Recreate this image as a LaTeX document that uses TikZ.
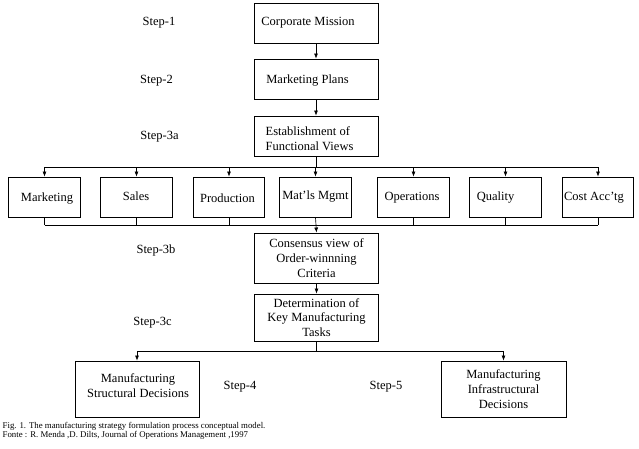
\documentclass[tikz,border=0pt]{standalone}
\usepackage{fontspec}
\setmainfont{Liberation Serif}
\usetikzlibrary{arrows.meta}
\begin{document}
\begin{tikzpicture}[x=1pt,y=-1pt,
  box/.style={draw=black, line width=0.9pt, inner sep=0pt, align=center,
    font=\fontsize{12.5}{14.8}\selectfont},
  bigbox/.style={box, minimum width=124pt},
  fbox/.style={box, minimum width=71.5pt, minimum height=40pt},
  steplbl/.style={font=\fontsize{12.5}{14}\selectfont, inner sep=0pt},
  txt/.style={font=\fontsize{12.5}{14.8}\selectfont, inner sep=0pt, align=left},
  wire/.style={line width=0.65pt},
  arr/.style={wire, -{Latex[length=5pt,width=4pt]}},
  caption/.style={font=\fontsize{8.8}{9}\selectfont, inner sep=0pt, anchor=west}]
\useasboundingbox (0,0) rectangle (639,448);

% main column
\node[bigbox, minimum height=40pt] (cm)  at (316,23) {};
\node[txt] (cmt) at (308,23) {Corporate Mission};
\node[bigbox, minimum height=40pt] (mp)  at (316,79) {};
\node[txt] (mpt) at (307.5,80.5) {Marketing Plans};
\node[bigbox, minimum height=40pt] (est) at (316,136) {};
\node[txt] (estt) at (309.5,139) {Establishment of\\Functional Views};

% functional views
\node[fbox] (mk) at (44.5,197) {};
\node[txt] (mkt) at (47,198.5) {Marketing};
\node[fbox] (sa) at (136.5,197) {};
\node[txt] (sat) at (136,196.5) {Sales};
\node[fbox] (pr) at (229,197) {};
\node[txt] (prt) at (227.5,198.5) {Production};
\node[fbox] (mm) at (315.5,197) {Mat’ls Mgmt};
\node[fbox] (op) at (413.5,197) {};
\node[txt] (opt) at (412,197.5) {Operations};
\node[fbox] (qu) at (505.5,197) {};
\node[txt] (qut) at (495.5,198) {Quality};
\node[fbox] (ca) at (598,197) {};
\node[txt] (cat) at (594,197.5) {Cost Acc’tg};

\node[bigbox, minimum height=50pt] (cons) at (316.5,258) {Consensus view of\\Order-winnning\\Criteria};
\node[bigbox, minimum height=47pt] (det) at (316.5,317.5) {Determination of\\Key Manufacturing\\Tasks};

\node[box, minimum width=124pt, minimum height=56pt] (msd) at (137,389) {};
\node[txt, align=center] (msdt) at (138,386) {Manufacturing\\Structural Decisions};
\node[box, minimum width=125pt, minimum height=56pt] (mid) at (503.5,389) {Manufacturing\\Infrastructural\\Decisions};

% step labels
\node[steplbl] (s1)  at (159,23)    {Step-1};
\node[steplbl] (s2)  at (156.5,81)  {Step-2};
\node[steplbl] (s3a) at (159.5,137) {Step-3a};
\node[steplbl] (s3b) at (156,250)   {Step-3b};
\node[steplbl] (s3c) at (152.5,323) {Step-3c};
\node[steplbl] (s4)  at (240,387)   {Step-4};
\node[steplbl] (s5)  at (386,387)   {Step-5};

% connectors
\draw[arr] (cm) -- (mp);
\draw[arr] (mp) -- (est);
\coordinate (top) at (316,167);
\draw[wire] (est.south) -- (top);
\draw[wire] (top -| mk.north) -- (top -| ca.north);
\foreach \b in {mk,sa,pr,mm,op,qu,ca}
  \draw[arr] (top -| \b.north) -- (\b.north);
\coordinate (bot) at (316,225);
\draw[wire] (bot -| mk.south) -- (bot -| ca.south);
\foreach \b in {mk,sa,pr,op,qu,ca}
  \draw[wire] (\b.south) -- (bot -| \b.south);
\draw[arr] (mm.south) -- (bot) -- (cons.north);
\draw[arr] (cons) -- (det);
\coordinate (split) at (316.5,351);
\draw[wire] (det.south) -- (split);
\draw[wire] (split -| msd.north) -- (split -| mid.north);
\draw[arr] (split -| msd.north) -- (msd.north);
\draw[arr] (split -| mid.north) -- (mid.north);

% caption
\node[caption] (cap1) at (2.5,426) {Fig. 1. The manufacturing strategy formulation process conceptual model.};
\node[caption] (cap2) at (2.5,435) {Fonte : R. Menda ,D. Dilts, Journal of Operations Management ,1997};
\end{tikzpicture}
\end{document}
